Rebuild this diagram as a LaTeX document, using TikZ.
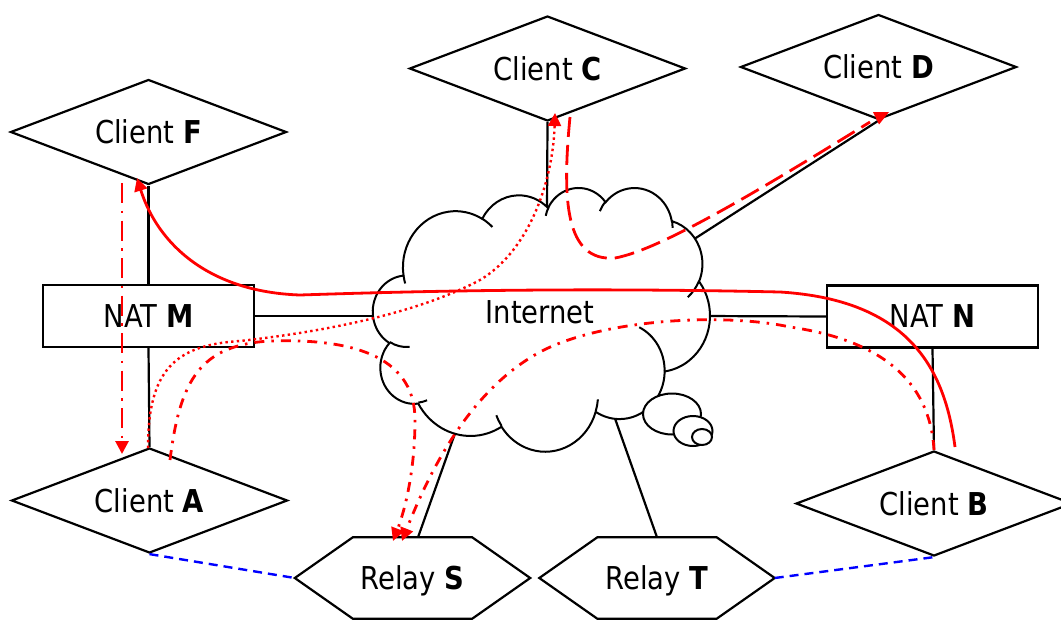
\documentclass[tikz,border=0pt]{standalone}
\usepackage{fontspec}
\setmainfont{DejaVu Sans}[FakeStretch=0.87]
\usetikzlibrary{shapes.geometric,arrows.meta}

% elliptical arc written like a DrawingML arcTo: radii (shape units) and visual start/sweep angles
\newcommand\oarc[4]{arc[x radius={#1*0.0078009}, y radius={#2*0.0061111},
  start angle={-atan2(sin(#3)*#1,cos(#3)*#2)},
  delta angle={-mod(atan2(sin(#3+#4)*#1,cos(#3+#4)*#2)-atan2(sin(#3)*#1,cos(#3)*#2)+720,360)}]}

\begin{document}
\begin{tikzpicture}[x=1pt,y=1pt,
  every node/.style={font=\fontsize{31.5}{38}\selectfont, text depth=0pt},
  shapeline/.style={draw=black, line width=2.2pt},
  client/.style={diamond, aspect=2.63, shapeline, fill=white, minimum width=276pt, minimum height=105pt, inner sep=0pt},
  nat/.style={rectangle, shapeline, fill=white, minimum width=211pt, minimum height=62pt, inner sep=0pt},
  relay/.style={rectangle, minimum width=235pt, minimum height=81pt, inner sep=0pt},
  link/.style={draw=black, line width=2.2pt},
  cloudline/.style={draw=black, line width=2pt},
  lan/.style={draw=blue, line width=2.4pt, dash pattern=on 9pt off 6pt},
  flow/.style={draw=red, line width=2.8pt, -{Triangle[length=13pt,width=13pt]}},
  ddotflow/.style={flow, dash pattern=on 20pt off 7.5pt on 2.5pt off 7.5pt},
  dotflow/.style={flow, line width=2.4pt, dash pattern=on 2.4pt off 3.3pt},
  ldashflow/.style={draw=red, line width=2.8pt, dash pattern=on 20pt off 8pt},
  dashdotflow/.style={flow, dash pattern=on 10pt off 7pt on 2.5pt off 7pt}]

\path[use as bounding box, fill=white] (0,0) rectangle (1061,-619);

% hosts and gateways
\node[client] (F) at (148.5,-132) {Client \textbf{F}};
\node[client] (C) at (547.5,-68.5) {Client \textbf{C}};
\node[client] (D) at (878.5,-67) {Client \textbf{D}};
\node[client] (A) at (149.5,-500.5) {Client \textbf{A}};
\node[client] (B) at (934,-503.5) {Client \textbf{B}};
\node[nat] (M) at (148.5,-316) {NAT \textbf{M}};
\node[nat] (N) at (932.5,-316.5) {NAT \textbf{N}};
\node[relay] (S) at (412.5,-578) {Relay \textbf{S}};
\node[relay] (T) at (657,-578) {Relay \textbf{T}};
\foreach \r in {S,T}
  \draw[shapeline] (\r.west) -- ([xshift=58pt]\r.north west) -- ([xshift=-58pt]\r.north east)
    -- (\r.east) -- ([xshift=-58pt]\r.south east) -- ([xshift=58pt]\r.south west) -- cycle;

% attachment points on the cloud
\coordinate (cM) at (382,-316);
\coordinate (cN) at (702,-316);
\coordinate (cC) at (547,-212);
\coordinate (cD) at (688,-243);
\coordinate (cS) at (458,-425);
\coordinate (cT) at (612,-410);

% wiring
\draw[link] (F.south) -- (M.north);
\draw[link] (M.south) -- (A.north);
\draw[link] (M.east) -- (cM);
\draw[link] (cN) -- (N.west);
\draw[link] (N.south) -- (B.north);
\draw[link] (C.south) -- (cC);
\draw[link] (D.south) -- (cD);
\draw[link] (cS) -- ([xshift=5.5pt]S.north);
\draw[link] (cT) -- (T.north);
\draw[lan] (A.south) -- (S.west);
\draw[lan] (T.east) -- (B.south);

% the Internet cloud
\path[cloudline, fill=white] (403.42,-274.82)
  \oarc{6753}{9190}{-190.4875}{123.7805}
  \oarc{5333}{7267}{-144.1024}{89.9452}
  \oarc{4365}{5945}{-145.8079}{99.7230}
  \oarc{4857}{6595}{-130.9861}{117.2417}
  \oarc{5333}{7273}{-78.7089}{109.0269}
  \oarc{6775}{9220}{-46.2673}{130.2690}
  \oarc{5785}{7867}{0.6250}{114.0333}
  \oarc{6752}{9215}{22.4516}{115.1726}
  \oarc{7720}{10543}{66.2426}{75.7110}
  \oarc{4360}{5918}{-274.9421}{146.7356}
  \oarc{4345}{5945}{-246.8285}{152.5189}
  -- cycle;
\path[cloudline]
  (409.61,-346.97) \oarc{4345}{5945}{86.7420}{26.4295}
  (427.04,-400.27) \oarc{4360}{5918}{73.6105}{11.4475}
  (501.54,-425.88) \oarc{6752}{9215}{137.6242}{14.0811}
  (597.88,-399.37) \oarc{6752}{9215}{6.4533}{15.9984}
  (639.24,-327.27) \oarc{5785}{7867}{-70.2924}{70.9174}
  (699.06,-280.83) \oarc{5333}{7273}{30.3180}{27.7515}
  (671.96,-220.16) \oarc{4857}{6595}{-13.7443}{14.8589}
  (599.83,-211.15) \oarc{4857}{6595}{-149.1815}{18.1954}
  (545.72,-215.84) \oarc{4365}{5945}{-163.4943}{17.6864}
  (482.21,-218.73) \oarc{6753}{9190}{-66.7070}{12.3194}
  (405.19,-283.49) \oarc{6753}{9190}{157.6544}{11.8582};
\draw[cloudline, fill=white] (672,-414) ellipse[x radius=29, y radius=20.5];
\draw[cloudline, fill=white] (693,-431) ellipse[x radius=19.5, y radius=15];
\draw[cloudline, fill=white] (702,-437) ellipse[x radius=10, y radius=8];
\node (net) at (540,-312) {Internet};

% end points of the traffic paths
\coordinate (Bout) at (955,-447);
\coordinate (Fin) at (137,-178);
\coordinate (Fout) at (122,-183);
\coordinate (Ain) at (122,-454);
\coordinate (Aout) at (148,-448);
\coordinate (Cin) at (555,-113);
\coordinate (Cout) at (570,-117);
\coordinate (Din) at (870,-122);
\coordinate (Aout2) at (170,-460);
\coordinate (Sin1) at (393,-541);
\coordinate (Bout2) at (934,-450);
\coordinate (Sin2) at (402,-541);

% traffic
\draw[flow] (Bout) .. controls (945,-370) and (910,-300) .. (780,-292)
  .. controls (600,-288) and (450,-290) .. (300,-295)
  .. controls (210,-292) and (158,-245) .. (Fin);
\draw[ddotflow] (Fout) -- (Ain);
\draw[dotflow] (Aout) .. controls (148,-370) and (175,-345) .. (240,-341)
  .. controls (330,-331) and (420,-312) .. (480,-280)
  .. controls (530,-250) and (553,-180) .. (Cin);
\draw[ldashflow] (Cout) .. controls (562,-200) and (565,-262) .. (615,-258)
  .. controls (660,-250) and (760,-190) .. (Din);
\fill[red] (873,-112) -- (889,-112) -- (879,-124.5) -- cycle;
\draw[dashdotflow] (Aout2) .. controls (180,-380) and (200,-345) .. (270,-341)
  .. controls (360,-338) and (415,-360) .. (415,-420)
  .. controls (415,-470) and (405,-510) .. (Sin1);
\draw[dashdotflow] (Bout2) .. controls (930,-380) and (880,-340) .. (790,-327)
  .. controls (720,-312) and (600,-320) .. (540,-352)
  .. controls (470,-390) and (430,-470) .. (Sin2);
\end{tikzpicture}
\end{document}
